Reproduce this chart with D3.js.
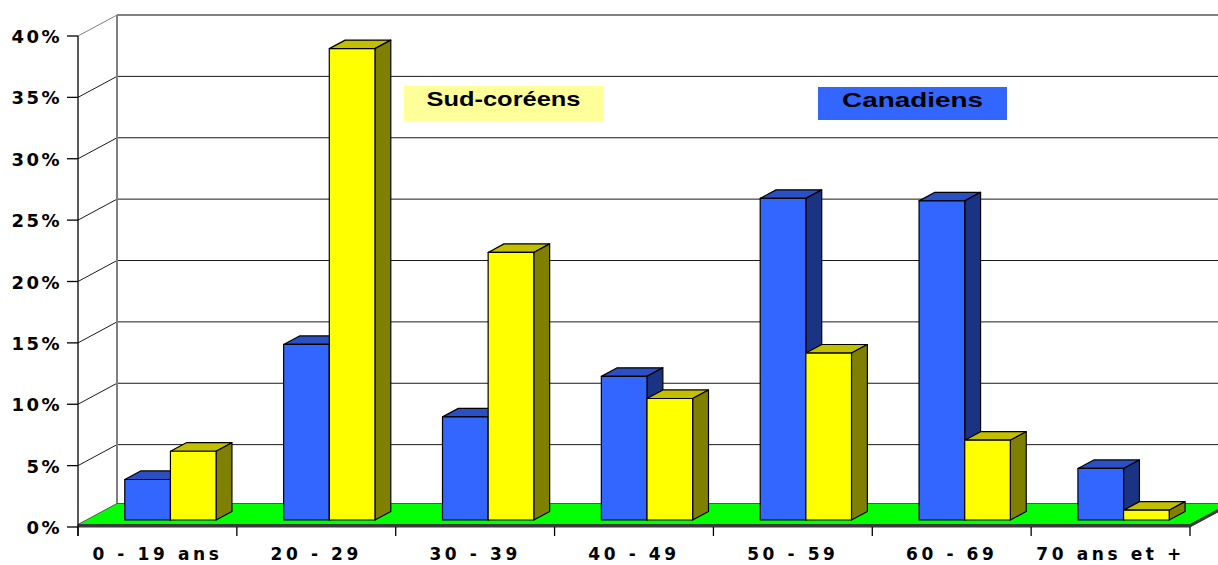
<!DOCTYPE html>
<html>
<head>
<meta charset="utf-8">
<script src="https://cdn.jsdelivr.net/npm/d3@7"></script>
<style>
  body { margin: 0; background: #fff; }
  svg { display: block; }
</style>
</head>
<body>
<svg id="chart" width="1218" height="565"></svg>
<script>
const categories = ["0 - 19 ans", "20 - 29", "30 - 39", "40 - 49", "50 - 59", "60 - 69", "70 ans et +"];
const seriesNames = ["Canadiens", "Sud-coréens"];
const canadiens = [3.3, 14.3, 8.4, 11.7, 26.2, 26.0, 4.2];
const sudCoreens = [5.6, 38.4, 21.8, 9.9, 13.6, 6.5, 0.8];
const yTicks = [0, 5, 10, 15, 20, 25, 30, 35, 40];
const yTickLabels = yTicks.map(d => d + "%");

const values = { "Canadiens": canadiens, "Sud-coréens": sudCoreens };
const colors = {
    "Canadiens": { front: "#3366ff", top: "#2a50c4", side: "#1b3383" },
    "Sud-coréens": { front: "#ffff00", top: "#c2be00", side: "#808000" }
};

const svg = d3.select("#chart");

// depth of the 3D box
const DX = 39, DY = 21;
const y = d3.scaleLinear().domain([0, 40]).range([527, 36]);
const x = d3.scaleBand().domain(categories).range([78, 1190]);
const xSub = d3.scaleBand().domain(seriesNames).range([0, x.bandwidth()]).paddingOuter(0.74);

// project a point (x, value, depth 0..1)
function P(px, v, z) {
    return [px + DX * z, y(v) - DY * z];
}
const pts = arr => arr.map(p => p.join(",")).join(" ");

const xRight = x.range()[1];

// back wall gridlines
svg.append("g").selectAll("line")
    .data(yTicks.filter(d => d > 0))
    .join("line")
    .attr("x1", d => P(78, d, 1)[0])
    .attr("x2", d => P(xRight, d, 1)[0])
    .attr("y1", d => P(78, d, 1)[1])
    .attr("y2", d => P(78, d, 1)[1])
    .attr("stroke", d => d === 40 ? "#808080" : "#1a1a1a")
    .attr("stroke-width", d => d === 40 ? 2 : 1);

// left wall diagonals
svg.append("g").selectAll("line")
    .data(yTicks.filter(d => d > 0))
    .join("line")
    .attr("x1", 78).attr("y1", d => y(d))
    .attr("x2", d => P(78, d, 1)[0]).attr("y2", d => P(78, d, 1)[1])
    .attr("stroke", d => d === 40 ? "#808080" : "#1a1a1a")
    .attr("stroke-width", 1);

// back wall left edge
svg.append("line")
    .attr("x1", P(78, 0, 1)[0]).attr("x2", P(78, 40, 1)[0])
    .attr("y1", P(78, 0, 1)[1]).attr("y2", P(78, 40, 1)[1])
    .attr("stroke", "#808080").attr("stroke-width", 2);

// floor
const ft = 2.5; // floor thickness
svg.append("polygon")
    .attr("points", pts([
        [78, y(0) - ft], [xRight, y(0) - ft],
        [xRight + DX, y(0) - ft - DY], [78 + DX, y(0) - ft - DY]
    ]))
    .attr("fill", "#00ff00").attr("stroke", "#555").attr("stroke-width", 1);
svg.append("polygon")
    .attr("points", pts([
        [78, y(0) - ft], [xRight, y(0) - ft], [xRight + DX, y(0) - ft - DY],
        [xRight + DX, y(0) - DY], [xRight, y(0)], [78, y(0)]
    ]))
    .attr("fill", "#3a3a3a").attr("stroke", "#3a3a3a").attr("stroke-width", 1);

// bars
const z0 = 1 / 3, z1 = 0.74;
const bars = [];
categories.forEach((c, i) => {
    seriesNames.forEach(s => {
        bars.push({ cat: c, series: s, value: values[s][i] });
    });
});

const barG = svg.append("g").selectAll("g")
    .data(bars)
    .join("g")
    .attr("stroke", "#000")
    .attr("stroke-width", 1.2)
    .attr("stroke-linejoin", "round");

barG.each(function (d) {
    const g = d3.select(this);
    const x0 = x(d.cat) + xSub(d.series);
    const x1 = x0 + xSub.bandwidth();
    const col = colors[d.series];
    g.append("polygon")
        .attr("points", pts([P(x0, d.value, z0), P(x1, d.value, z0), P(x1, d.value, z1), P(x0, d.value, z1)]))
        .attr("fill", col.top);
    g.append("polygon")
        .attr("points", pts([P(x1, d.value, z0), P(x1, 0, z0), P(x1, 0, z1), P(x1, d.value, z1)]))
        .attr("fill", col.side);
    g.append("polygon")
        .attr("points", pts([P(x0, d.value, z0), P(x1, d.value, z0), P(x1, 0, z0), P(x0, 0, z0)]))
        .attr("fill", col.front);
});

// value axis
svg.append("line")
    .attr("x1", 78).attr("x2", 78)
    .attr("y1", y(40)).attr("y2", y(0) + 9)
    .attr("stroke", "#000").attr("stroke-width", 1.3);

svg.append("g").selectAll("line")
    .data(yTicks)
    .join("line")
    .attr("x1", 67).attr("x2", 78)
    .attr("y1", d => y(d)).attr("y2", d => y(d))
    .attr("stroke", "#000").attr("stroke-width", 1.3);

svg.append("g").selectAll("text")
    .data(yTicks)
    .join("text")
    .attr("x", 62)
    .attr("y", d => y(d) + 7)
    .attr("text-anchor", "end")
    .attr("font-family", "'Century Gothic', 'DejaVu Sans', sans-serif")
    .attr("font-weight", "bold")
    .attr("font-size", 18)
    .attr("letter-spacing", 2.5)
    .text((d, i) => yTickLabels[i]);

// category axis ticks
svg.append("g").selectAll("line")
    .data(d3.range(categories.length + 1))
    .join("line")
    .attr("x1", i => 78 + i * x.step()).attr("x2", i => 78 + i * x.step())
    .attr("y1", y(0)).attr("y2", y(0) + 9)
    .attr("stroke", "#000").attr("stroke-width", 1.3);

svg.append("g").selectAll("text")
    .data(categories)
    .join("text")
    .attr("x", d => x(d) + x.bandwidth() / 2)
    .attr("y", 560)
    .attr("text-anchor", "middle")
    .attr("font-family", "'Century Gothic', 'DejaVu Sans', sans-serif")
    .attr("font-weight", "bold")
    .attr("font-size", 17)
    .attr("letter-spacing", 3.6)
    .text(d => d);

// legend boxes
const legend = [
    { name: "Sud-coréens", x: 404, y: 86, w: 199, h: 35, fill: "#ffff99" },
    { name: "Canadiens", x: 818, y: 87, w: 189, h: 33, fill: "#3366ff" }
];
const lg = svg.append("g").selectAll("g").data(legend).join("g");
lg.append("rect")
    .attr("x", d => d.x).attr("y", d => d.y)
    .attr("width", d => d.w).attr("height", d => d.h)
    .attr("fill", d => d.fill);
lg.append("text")
    .attr("x", d => d.x + d.w / 2)
    .attr("y", d => d.y + 20)
    .attr("text-anchor", "middle")
    .attr("font-family", "'Liberation Sans', Arial, sans-serif")
    .attr("font-weight", "bold")
    .attr("font-size", 21)
    .attr("textLength", d => d.name === "Canadiens" ? 141 : 154)
    .attr("lengthAdjust", "spacingAndGlyphs")
    .text(d => d.name);
</script>
</body>
</html>
